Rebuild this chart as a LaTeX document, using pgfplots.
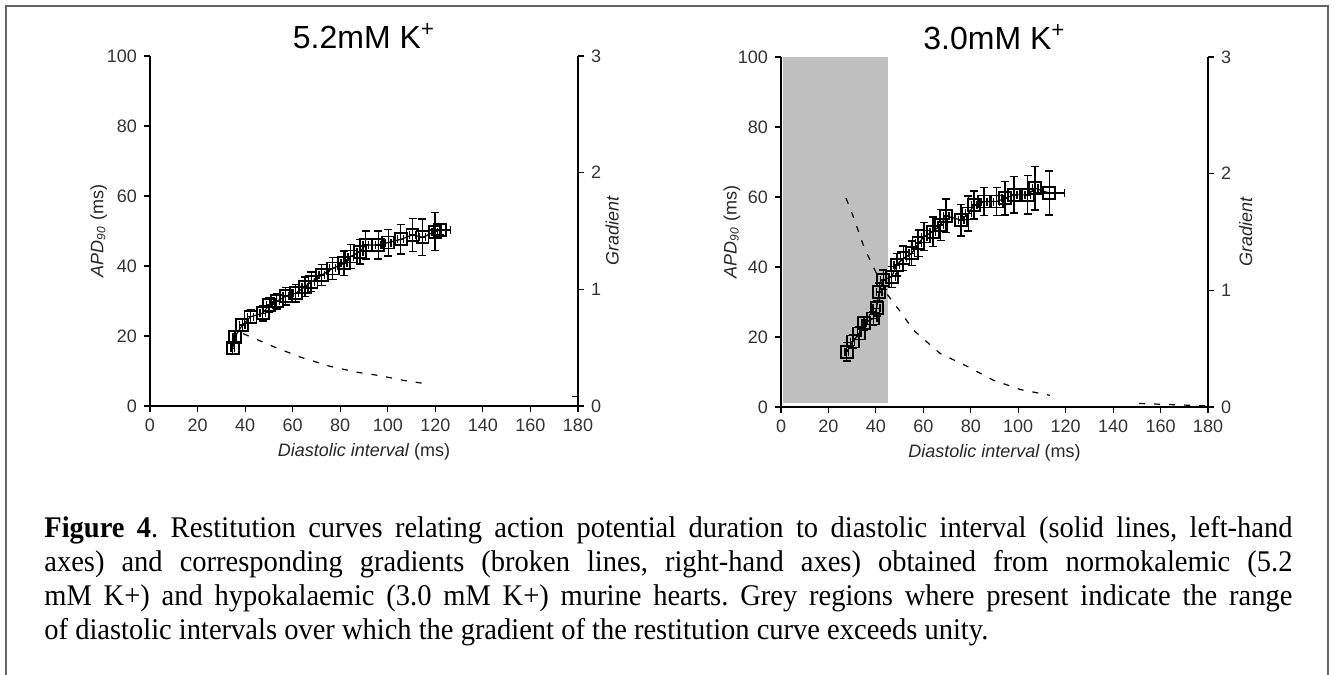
\documentclass[border=0pt]{standalone}
\usepackage{fontspec}
\setmainfont{Liberation Sans}
\newfontfamily\capfont[FakeStretch=0.95]{Liberation Serif}
\usepackage{pgfplots}
\pgfplotsset{compat=1.18}

\pgfplotsset{
  restit/.style={
    scale only axis, height=175pt,
    xmin=0, xmax=180, xtick={0,20,...,180},
    tick align=outside, major tick length=3pt,
    tick style={black, line width=0.6pt},
    axis line style={line width=0.7pt},
    ticklabel style={font=\fontsize{9}{10}\selectfont, text=black!80},
    /pgf/number format/assume math mode=true,
    label style={font=\fontsize{9}{10}\selectfont, text=black!85},
    clip=false,
  },
  apd/.style={black, line width=0.6pt, mark=square, mark size=3pt,
    mark options={fill=white, line width=0.9pt, solid},
    error bars/.cd, y dir=both, y explicit, x dir=both, x explicit,
    error bar style={line width=0.7pt},
    error mark options={rotate=90, mark size=2pt, line width=0.7pt}},
  grad/.style={black, line width=0.6pt, dash pattern=on 3pt off 4.5pt, no marks},
}

\pgfplotstableread{
x     y     ey   ex
34.8  16.5  1.5  0.8
35.7  19.8  1.5  0.8
38.8  23.1  1.8  1.2
42.3  25.5  2.0  1.2
47.4  26.5  2.2  1.2
50.2  28.9  2.0  1.2
53.3  29.9  2.2  1.2
57.1  31.4  2.5  1.2
61.3  32.2  2.5  1.2
65.2  34.1  2.8  1.2
67.9  35.5  2.8  1.2
72.2  37.4  3.0  1.2
76.8  39.3  3.2  1.2
81.6  40.8  3.5  1.2
84.4  42.7  3.5  1.2
88.3  44.1  3.5  1.2
90.7  46.0  4.0  1.2
96.0  46.0  4.0  1.2
100.2 46.7  3.8  1.2
105.4 47.6  4.2  1.2
110.4 48.9  4.7  1.2
114.6 48.2  5.2  1.2
119.8 49.8  5.4  1.2
122.0 50.3  1.5  4.5
}\normo

\pgfplotstableread{
x     y     ey   ex
27.7  15.8  2.7  0.8
30.2  18.7  2.0  0.8
33.0  21.0  1.8  0.8
35.0  23.9  2.0  0.8
38.9  25.3  2.0  1.5
40.3  28.2  2.2  1.5
41.4  32.9  2.5  1.2
43.1  36.3  2.8  1.2
46.7  37.2  3.0  1.5
48.8  40.6  3.2  1.2
51.6  42.5  3.5  1.2
55.1  43.9  3.5  1.2
58.0  46.8  3.8  1.2
60.3  48.7  4.0  1.2
64.0  50.1  4.2  1.2
67.3  52.0  4.5  1.2
69.6  54.6  4.8  1.2
75.9  53.4  4.5  1.2
79.0  55.3  5.0  1.2
81.4  57.7  4.0  1.2
85.6  58.7  4.0  1.2
90.9  58.7  4.0  1.2
94.4  59.6  4.8  1.2
98.2  60.6  5.2  1.2
104.0 60.6  5.5  1.2
107.1 62.5  6.2  1.2
113.1 61.1  6.3  6.4
}\hypo

\begin{document}
\begin{tikzpicture}
\path[use as bounding box] (0,0) rectangle (667pt,337.5pt);
\draw[line width=1pt, black!60] (3pt,0) -- (3pt,334.5pt) -- (664pt,334.5pt) -- (664pt,0);

% 5.2 mM K+
\begin{axis}[restit, width=214pt, at={(75pt,134.5pt)}, anchor=south west,
  axis x line*=bottom, axis y line*=left,
  ymin=0, ymax=100, ytick={0,20,...,100},
  xlabel={\textit{Diastolic interval} (ms)},
  xlabel style={at={(axis description cs:0.5,0)}, anchor=base, yshift=-25pt},
  ylabel={\textit{APD}\textsubscript{\textit{90}} (ms)},
  ylabel style={at={(axis description cs:-0.12,0.5)}, anchor=center}]
\addplot[apd] table[x=x, y=y, y error=ey, x error=ex] {\normo};
\node[anchor=base, font=\fontsize{16}{18}\selectfont, yshift=3.5pt]
  at (axis description cs:0.5,1) {5.2mM K\textsuperscript{+}};
\end{axis}
\begin{axis}[restit, width=214pt, at={(75pt,134.5pt)}, anchor=south west,
  axis x line=none, axis y line*=right,
  ymin=0, ymax=3, ytick={0,1,2,3},
  ylabel={\textit{Gradient}},
  ylabel style={at={(axis description cs:1.08,0.5)}, anchor=center, rotate=0}]
\addplot[grad] coordinates {(39.2,0.62) (51.8,0.51) (63.1,0.42) (75.7,0.34)
  (86.9,0.29) (96.7,0.26) (106.5,0.22) (116.3,0.19)};
\addplot[black, line width=0.6pt, no marks] coordinates {(177.5,0.08) (180,0.08)};
\end{axis}

% 3.0 mM K+
\begin{axis}[restit, width=213.5pt, at={(390.5pt,134pt)}, anchor=south west,
  axis x line*=bottom, axis y line*=left,
  ymin=0, ymax=100, ytick={0,20,...,100},
  xlabel={\textit{Diastolic interval} (ms)},
  xlabel style={at={(axis description cs:0.5,0)}, anchor=base, yshift=-25pt},
  ylabel={\textit{APD}\textsubscript{\textit{90}} (ms)},
  ylabel style={at={(axis description cs:-0.115,0.5)}, anchor=center}]
\addplot[fill=black!25, draw=none] coordinates {(1,1) (45,1) (45,100) (1,100)} -- cycle;
\addplot[apd] table[x=x, y=y, y error=ey, x error=ex] {\hypo};
\node[anchor=base, font=\fontsize{16}{18}\selectfont, yshift=3.5pt]
  at (axis description cs:0.5,1) {3.0mM K\textsuperscript{+}};
\end{axis}
\begin{axis}[restit, width=213.5pt, at={(390.5pt,134pt)}, anchor=south west,
  axis x line=none, axis y line*=right,
  ymin=0, ymax=3, ytick={0,1,2,3},
  ylabel={\textit{Gradient}},
  ylabel style={at={(axis description cs:1.088,0.5)}, anchor=center, rotate=0}]
\addplot[grad] coordinates {(27.4,1.79) (30.5,1.63) (35.0,1.37) (38.9,1.20)
  (44.6,0.97) (50.2,0.82) (55.8,0.66) (67.0,0.46) (78.3,0.35) (89.5,0.23)
  (100.8,0.15) (113.4,0.10)};
\addplot[grad] coordinates {(151,0.03) (165,0.02) (179,0.01)};
\end{axis}

% caption
\begin{scope}[every node/.style={anchor=base west, inner sep=0pt,
    font=\capfont\fontsize{15}{17}\selectfont\frenchspacing}]
\node at (22pt,68.5pt) {\makebox[624pt][s]{\textbf{Figure 4}. Restitution curves relating action potential duration to diastolic interval (solid lines, left-hand}};
\node at (22pt,51.5pt) {\makebox[624pt][s]{axes) and corresponding gradients (broken lines, right-hand axes) obtained from normokalemic (5.2}};
\node at (22pt,34.5pt) {\makebox[624pt][s]{mM K+) and hypokalaemic (3.0 mM K+) murine hearts. Grey regions where present indicate the range}};
\node at (22pt,17.5pt) {of diastolic intervals over which the gradient of the restitution curve exceeds unity.};
\end{scope}
\end{tikzpicture}
\end{document}
